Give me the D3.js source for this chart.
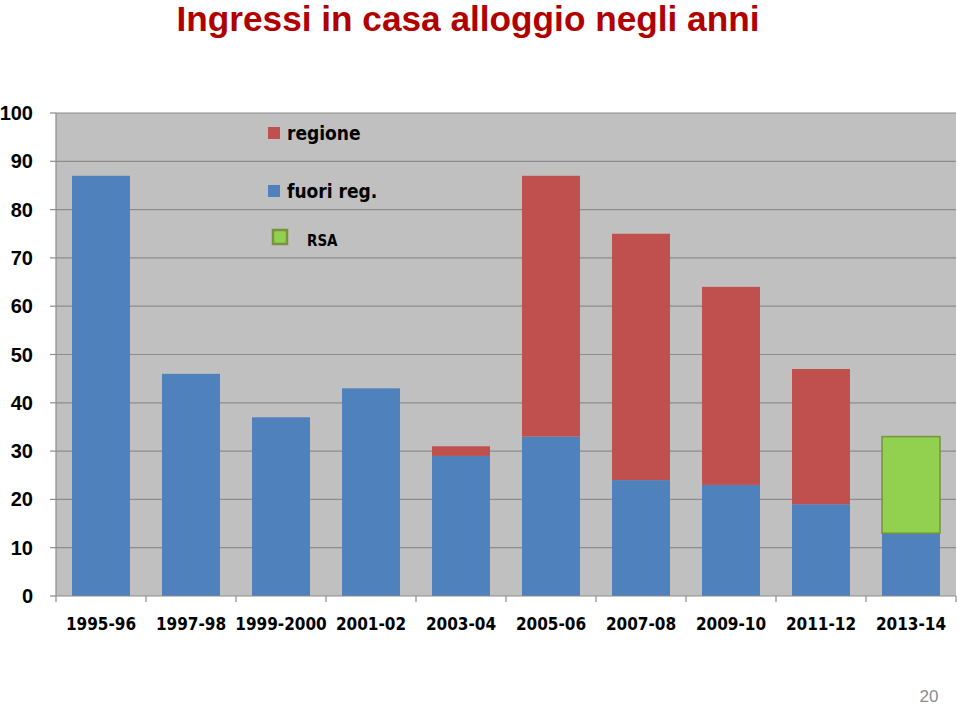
<!DOCTYPE html>
<html><head><meta charset="utf-8">
<script src="https://cdn.jsdelivr.net/npm/d3@7"></script>
<style>body{margin:0;background:#fff}svg{display:block}</style>
</head><body>
<svg id="c" width="959" height="705"></svg>
<script>
const categories = ["1995-96","1997-98","1999-2000","2001-02","2003-04","2005-06","2007-08","2009-10","2011-12","2013-14"];
const fuoriReg = [87,46,37,43,29,33,24,23,19,13];
const regione  = [0,0,0,0,2,54,51,41,28,0];
const rsa      = [0,0,0,0,0,0,0,0,0,20];
const yTicks = [0,10,20,30,40,50,60,70,80,90,100];
const seriesNames = ["fuori reg.","regione","RSA"];

const svg = d3.select("#c");
const m = {l:56, r:956, t:113, b:596};
const x = d3.scaleBand().domain(categories).range([m.l,m.r]).paddingInner(0.356).paddingOuter(0.178);
const y = d3.scaleLinear().domain([0,100]).range([m.b,m.t]);
const axisFont = "'DejaVu Sans Condensed','Liberation Sans',sans-serif";

// title
svg.append("text").attr("x",468).attr("y",31).attr("text-anchor","middle")
  .attr("font-family","'Liberation Sans',Arial,sans-serif").attr("font-weight","bold")
  .attr("font-size",35).attr("fill","#b00000")
  .attr("textLength",583).attr("lengthAdjust","spacingAndGlyphs")
  .text("Ingressi in casa alloggio negli anni");

// plot bg
svg.append("rect").attr("x",m.l).attr("y",m.t).attr("width",m.r-m.l).attr("height",m.b-m.t).attr("fill","#c0c0c0");

// grid
svg.append("g").selectAll("line").data(yTicks.filter(d=>d>0)).join("line")
  .attr("x1",m.l).attr("x2",m.r).attr("y1",d=>y(d)).attr("y2",d=>y(d))
  .attr("stroke","#8c8c8c").attr("stroke-width",1.2);

// stacked data
const rows = categories.map((c,i)=>({cat:c,"fuori reg.":fuoriReg[i],"regione":regione[i],"RSA":rsa[i]}));
const stack = d3.stack().keys(seriesNames)(rows);
const colors = {"fuori reg.":"#4f81bd","regione":"#c0504d","RSA":"#92d050"};
stack.forEach(s=>{
  svg.append("g").selectAll("rect").data(s.filter(d=>d[1]>d[0])).join("rect")
    .attr("x",d=>x(d.data.cat)).attr("width",x.bandwidth())
    .attr("y",d=>y(d[1])).attr("height",d=>y(d[0])-y(d[1]))
    .attr("fill",colors[s.key])
    .attr("stroke",s.key==="RSA"?"#77933c":"none").attr("stroke-width",1.5);
});

// axes
const ax = svg.append("g").attr("stroke","#8c8c8c").attr("stroke-width",1.2);
ax.append("line").attr("x1",m.l).attr("x2",m.l).attr("y1",m.t).attr("y2",m.b);
ax.append("line").attr("x1",m.l).attr("x2",m.r).attr("y1",m.b).attr("y2",m.b);
ax.selectAll(".yt").data(yTicks).join("line").attr("x1",m.l-6).attr("x2",m.l).attr("y1",d=>y(d)).attr("y2",d=>y(d));
const bounds = categories.map(c=>x(c)-x.step()*x.paddingInner()/2).concat([m.r]);
bounds[0]=m.l;
ax.selectAll(".xt").data(bounds).join("line").attr("x1",d=>d).attr("x2",d=>d).attr("y1",m.b).attr("y2",m.b+6);

svg.append("g").selectAll("text").data(yTicks).join("text")
  .attr("x",33).attr("y",d=>y(d)+7).attr("text-anchor","end")
  .attr("font-family","'Liberation Sans',Arial,sans-serif").attr("font-weight","bold").attr("font-size",20)
  .attr("fill","#000").text(d=>d);

svg.append("g").selectAll("text").data(categories).join("text")
  .attr("x",d=>x(d)+x.bandwidth()/2).attr("y",630).attr("text-anchor","middle")
  .attr("font-family",axisFont).attr("font-weight","bold").attr("font-size",17)
  .attr("fill","#000").text(d=>d);

// legend
const lg = svg.append("g").attr("font-family",axisFont).attr("fill","#000");
lg.append("rect").attr("x",268).attr("y",127).attr("width",12).attr("height",12).attr("fill",colors["regione"]);
lg.append("text").attr("x",287).attr("y",140).attr("font-size",19).attr("font-weight","bold").text("regione");
lg.append("rect").attr("x",268).attr("y",185).attr("width",12).attr("height",12).attr("fill",colors["fuori reg."]);
lg.append("text").attr("x",287).attr("y",198).attr("font-size",19).attr("font-weight","bold").text("fuori reg.");
lg.append("rect").attr("x",273).attr("y",230).attr("width",14).attr("height",14).attr("fill",colors["RSA"]).attr("stroke","#77933c").attr("stroke-width",2.5);
lg.append("text").attr("x",307).attr("y",246).attr("font-size",15).attr("font-weight","bold").text("RSA");

// page number
svg.append("text").attr("x",929).attr("y",702).attr("text-anchor","middle")
  .attr("font-family","'Liberation Sans',Arial,sans-serif").attr("font-size",17).attr("fill","#8c8c8c").text("20");
</script>
</body></html>
